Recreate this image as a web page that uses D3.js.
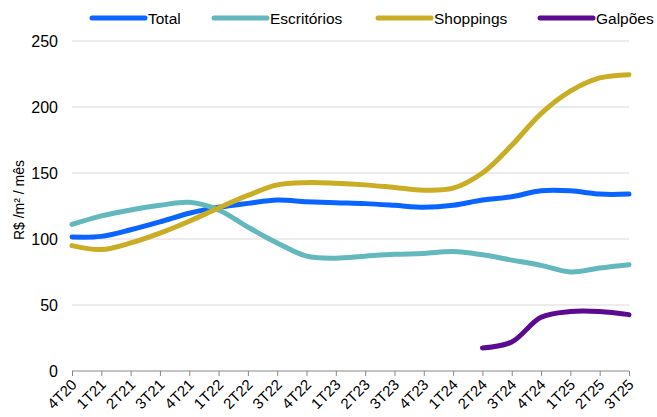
<!DOCTYPE html>
<html>
<head>
<meta charset="utf-8">
<script src="https://cdn.jsdelivr.net/npm/d3@7"></script>
<style>
  body { margin: 0; background: #fff; }
  text { font-family: "Liberation Sans", Arial, sans-serif; fill: #000; }
</style>
</head>
<body>
<script>
var quarters = ['4T20', '1T21', '2T21', '3T21', '4T21', '1T22', '2T22', '3T22', '4T22', '1T23',
  '2T23', '3T23', '4T23', '1T24', '2T24', '3T24', '4T24', '1T25', '2T25', '3T25'];

var total = [101.5, 102, 107, 113, 119.5, 124, 127, 129.5, 128.3, 127.5,
  126.8, 125.5, 124, 125.5, 129.5, 132, 136.5, 136.5, 134, 134];
var escritorios = [111, 117.5, 122, 125.5, 127.8, 122, 109, 97, 87, 85.5,
  87, 88.4, 89, 90.5, 88, 84, 80, 75, 78, 80.5];
var shoppings = [95, 92, 97, 104.5, 113.5, 123.5, 133, 141, 142.7, 142.2,
  141, 139, 137, 138.5, 150, 171, 195, 212, 222, 224.5];
var galpoes = [null, null, null, null, null, null, null, null, null, null,
  null, null, null, null, 17.5, 22, 40.7, 45, 45, 42.7];

var seriesNames = ['Total', 'Escritórios', 'Shoppings', 'Galpões'];
var seriesColors = ['#0a64ff', '#62b8bd', '#c9ad24', '#5c0a8f'];
var yTicks = [0, 50, 100, 150, 200, 250];

var width = 657, height = 417;
var svg = d3.select('body').append('svg').attr('width', width).attr('height', height);

var x = d3.scalePoint().domain(quarters).range([72, 629]);
var y = d3.scaleLinear().domain([0, 250]).range([371, 41]);

// gridlines
svg.append('g').selectAll('line').data(yTicks.slice(1)).join('line')
  .attr('x1', 72).attr('x2', 629)
  .attr('y1', d => y(d)).attr('y2', d => y(d))
  .attr('stroke', '#d9d9d9').attr('stroke-width', 1);

// y labels
svg.append('g').selectAll('text').data(yTicks).join('text')
  .attr('x', 58).attr('y', d => y(d))
  .attr('dy', '0.36em').attr('text-anchor', 'end')
  .style('font-size', '16px')
  .text(d => d);

// y title
svg.append('text')
  .attr('transform', 'translate(24,200) rotate(-90)')
  .attr('text-anchor', 'middle')
  .style('font-size', '14px')
  .text('R$ /m² / mês');

// x axis
var xAxis = d3.axisBottom(x).tickSize(5).tickFormat('');
var gx = svg.append('g').attr('transform', 'translate(0,371)').call(xAxis);
gx.select('.domain').attr('stroke', '#888').attr('d', 'M72,0H629');
gx.selectAll('.tick line').attr('stroke', '#888');

svg.append('g').selectAll('text').data(quarters).join('text')
  .attr('transform', d => 'translate(' + (x(d) + 2) + ',382) rotate(-45)')
  .attr('text-anchor', 'end')
  .attr('dy', '0.35em')
  .style('font-size', '15px')
  .text(d => d);

// lines
var allSeries = [total, escritorios, shoppings, galpoes];
var line = d3.line()
  .defined(d => d != null)
  .x((d, i) => x(quarters[i]))
  .y(d => y(d))
  .curve(d3.curveCatmullRom.alpha(0.5));

allSeries.forEach(function(s, k) {
  svg.append('path')
    .attr('d', line(s))
    .attr('fill', 'none')
    .attr('stroke', seriesColors[k])
    .attr('stroke-width', 5)
    .attr('stroke-linecap', 'round')
    .attr('stroke-linejoin', 'round');
});

// legend
var legendX = [92, 214, 378, 540];
seriesNames.forEach(function(name, k) {
  svg.append('line')
    .attr('x1', legendX[k]).attr('x2', legendX[k] + 53)
    .attr('y1', 18).attr('y2', 18)
    .attr('stroke', seriesColors[k]).attr('stroke-width', 5)
    .attr('stroke-linecap', 'round');
  svg.append('text')
    .attr('x', legendX[k] + 56).attr('y', 18)
    .attr('dy', '0.36em')
    .style('font-size', '15.5px')
    .text(name);
});
</script>
</body>
</html>
